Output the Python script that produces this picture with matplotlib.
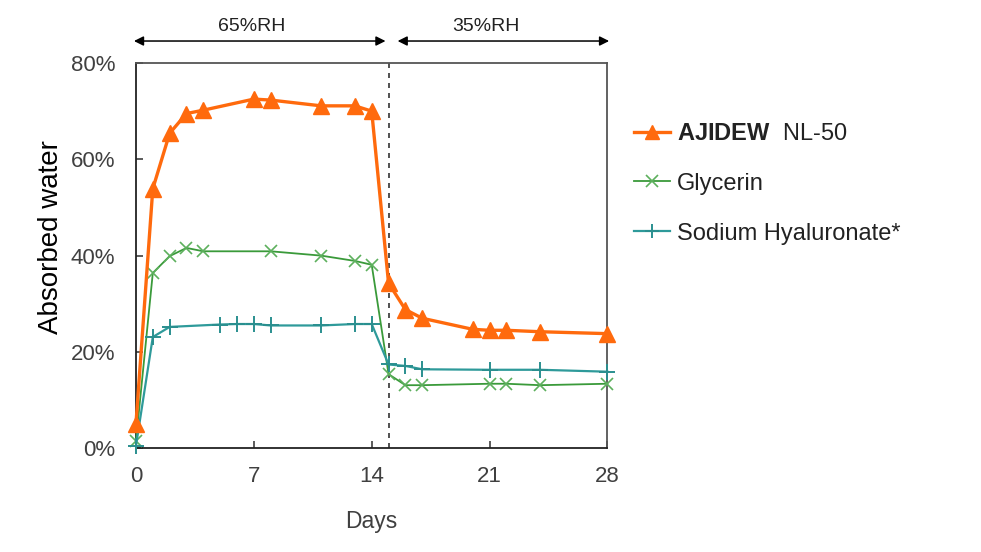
import matplotlib
matplotlib.use("Agg")
import matplotlib.pyplot as plt
from matplotlib.ticker import PercentFormatter

plt.rcParams["font.family"] = ["Liberation Sans", "DejaVu Sans"]
plt.rcParams["mathtext.fontset"] = "custom"
plt.rcParams["mathtext.rm"] = "Liberation Sans"
plt.rcParams["mathtext.bf"] = "Liberation Sans:bold"

# --- data (absorbed water, %) ---
days_ajidew = [0, 1, 2, 3, 4, 7, 8, 11, 13, 14, 15, 16, 17, 20, 21, 22, 24, 28]
ajidew = [5.1, 53.9, 65.4, 69.5, 70.2, 72.5, 72.3, 71.1, 71.1, 70.0,
          34.3, 28.8, 27.0, 24.7, 24.5, 24.5, 24.2, 23.8]

days_glycerin = [0, 1, 2, 3, 4, 8, 11, 13, 14, 15, 16, 17, 21, 22, 24, 28]
glycerin = [1.5, 36.4, 39.9, 41.6, 40.9, 40.9, 40.0, 38.9, 38.1,
            15.4, 13.1, 13.1, 13.4, 13.4, 13.1, 13.4]

days_sh = [0, 1, 2, 5, 6, 7, 8, 11, 13, 14, 15, 16, 17, 21, 24, 28]
sodium_hyal = [0.5, 23.1, 25.2, 25.7, 25.8, 25.8, 25.5, 25.5, 25.8, 25.8,
               17.4, 17.1, 16.4, 16.3, 16.3, 15.9]

labels = [r"$\mathbf{AJIDEW}$  NL-50", "Glycerin", "Sodium Hyaluronate*"]
x_ticks = [0, 7, 14, 21, 28]
y_ticks = [0, 20, 40, 60, 80]
switch_day = 15

fig = plt.figure(figsize=(9.81, 5.52), dpi=100)
ax = fig.add_axes([0.1386, 0.1879, 0.4806, 0.698])

l1, = ax.plot(days_ajidew, ajidew, color="#FF6A0D", lw=2.4, marker="^",
              ms=11, mec="#FF6A0D", mfc="#FF6A0D", label=labels[0],
              zorder=4, clip_on=False)
l2, = ax.plot(days_glycerin, glycerin, color="#3A9A3A", lw=1.3, marker="x",
              ms=9, mew=1.2, mec="#5DB05D", label=labels[1], zorder=3,
              clip_on=False)
l3, = ax.plot(days_sh, sodium_hyal, color="#2E9A9A", lw=1.6, marker="+",
              ms=11, mew=1.4, mec="#2A8F8F", label=labels[2], zorder=3,
              clip_on=False)

ax.axvline(switch_day, color="#333333", lw=1.2, ls=(0, (3, 3)), zorder=2)

ax.set_xlim(0, 28)
ax.set_ylim(0, 80)
ax.set_xticks(x_ticks)
ax.set_yticks(y_ticks)
ax.yaxis.set_major_formatter(PercentFormatter(decimals=0))
ax.tick_params(direction="in", length=5, width=1.2, color="#404040",
               labelsize=16, labelcolor="#404040")
ax.tick_params(axis="x", pad=13)
ax.tick_params(axis="y", pad=15)
for sp in ax.spines.values():
    sp.set_color("#555555")
    sp.set_linewidth(1.3)
ax.spines["left"].set_color("#222222")
ax.spines["bottom"].set_color("#222222")

ax.set_xlabel("Days", fontsize=16.5, color="#404040", labelpad=16)
ax.set_ylabel("Absorbed water", fontsize=20, color="black")
ax.yaxis.set_label_coords(-0.153, 0.548)

# humidity period arrows above the plot
tr = ax.get_xaxis_transform()
arrow = dict(arrowstyle="<|-|>", color="black", lw=1.1, mutation_scale=14,
             shrinkA=0, shrinkB=0)
ax.annotate("", xy=(-0.12, 1.057), xytext=(14.82, 1.057), xycoords=tr,
            textcoords=tr, arrowprops=arrow, annotation_clip=False)
ax.annotate("", xy=(15.54, 1.057), xytext=(28.1, 1.057), xycoords=tr,
            textcoords=tr, arrowprops=arrow, annotation_clip=False)
ax.text(6.9, 1.095, "65%RH", transform=tr, ha="center", va="center",
        fontsize=14, color="#222222")
ax.text(20.8, 1.095, "35%RH", transform=tr, ha="center", va="center",
        fontsize=14, color="#222222")

leg = fig.legend(handles=[l1, l2, l3], loc="upper left",
                 bbox_to_anchor=(0.625, 0.816), frameon=False, fontsize=17,
                 handlelength=1.5, handletextpad=0.3, labelspacing=1.18,
                 markerscale=0.9)
for t in leg.get_texts():
    t.set_color("#222222")

fig.savefig("out.png", dpi=100)
